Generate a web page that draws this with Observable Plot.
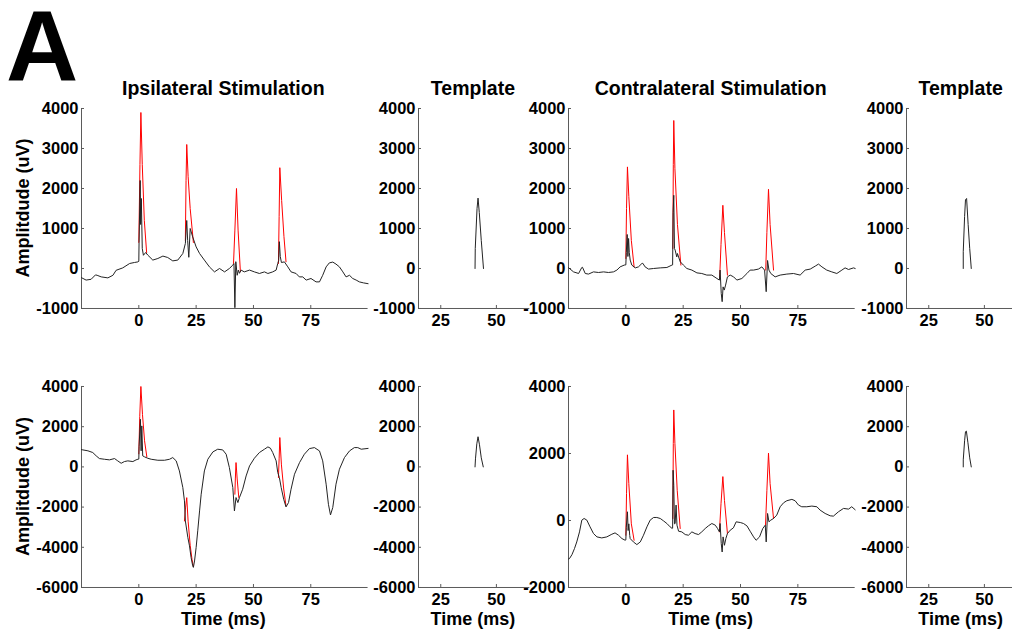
<!DOCTYPE html>
<html>
<head>
<meta charset="utf-8">
<script src="https://cdn.jsdelivr.net/npm/d3@7"></script>
<script src="https://cdn.jsdelivr.net/npm/@observablehq/plot@0.6"></script>
<style>
  body { margin: 0; background: #fff; }
  #fig { position: relative; width: 1012px; height: 633px; background: #fff; overflow: hidden; }
  #fig svg { position: absolute; }
</style>
</head>
<body>
<div id="fig"></div>
<script>
// ---------- data (time in ms, amplitude in uV) ----------
const ipsiTopBlack = [[-25,-230],[-23,-290],[-20.8,-270],[-18.9,-160],[-18.2,-170],[-16.4,-210],[-13.5,-235],[-11.3,-170],[-9.9,-45],[-7,15],[-4,125],[-1.9,150],[-0.4,165],[0,180],[0.1,650],[0.6,2200],[0.8,1100],[1.1,1750],[1.5,500],[2,330],[3,400],[3.9,335],[6.1,210],[8.3,250],[10.5,310],[12.6,275],[14.8,190],[17,210],[19.2,375],[20.3,625],[20.9,1200],[21.3,700],[21.8,280],[22.4,1000],[23.5,790],[25,540],[26.5,375],[28.6,210],[30.8,40],[33,-85],[35.2,0],[37.4,-85],[39.5,0],[41,85],[41.5,120],[41.9,-980],[42.3,170],[42.9,-170],[43.4,-40],[43.9,-120],[44.6,-40],[46,-85],[48.3,-40],[50.4,-85],[52.6,-125],[54.8,-85],[56.3,-125],[58.4,-85],[59.9,-40],[60.6,125],[61,200],[61.3,670],[61.7,300],[62.2,150],[63.5,165],[65,40],[66.4,-85],[68.6,-125],[70,-210],[71.5,-210],[73,-290],[75.1,-250],[77.3,-335],[78.8,-335],[80.2,-170],[81.7,40],[83.1,140],[84.6,160],[86,110],[87.5,40],[89,-85],[90.4,-210],[91.9,-170],[93.3,-250],[94.8,-290],[96.2,-335],[98,-360],[100,-380]];
const ipsiTopRed = [
  [[0,650],[0.5,2600],[0.9,3900],[1.5,2600],[2.4,1200],[3.4,400]],
  [[20.3,700],[20.6,2200],[20.9,3100],[21.5,2300],[22.4,1500],[23.8,650]],
  [[41.3,125],[41.9,960],[42.6,2000],[43.3,960],[44.3,-80]],
  [[60.9,125],[61.2,1300],[61.5,2520],[62.3,1700],[63.3,800],[64.2,170]]
];
const ipsiTopTemplate = [[40.4,0],[40.5,500],[41.3,1500],[41.75,1760],[42.3,1400],[43.2,700],[44.2,0]];

const contraTopBlack = [[-25,20],[-22.8,-85],[-20.6,-125],[-19.2,25],[-18.9,30],[-17.7,-125],[-16.3,-140],[-14.1,-85],[-11.9,-100],[-9.7,-85],[-7.6,-100],[-5.4,-85],[-3.9,-40],[-2.5,40],[-0.7,85],[0,90],[0.2,400],[0.6,850],[0.9,300],[1.2,750],[1.5,400],[1.9,210],[2.6,85],[4.1,15],[5.5,40],[7,125],[7.4,130],[8.4,40],[9.9,-15],[12.1,0],[15,15],[17.9,25],[20.1,85],[20.4,90],[20.6,1400],[20.9,1830],[21.2,500],[21.5,460],[22.2,290],[22.5,375],[23.7,170],[25.1,85],[26.6,0],[28.8,-40],[31,-110],[33.1,-125],[35.3,-165],[37.5,-165],[39.7,-250],[40.8,-290],[41.1,-40],[41.6,-625],[42,-830],[42.4,-460],[42.9,-540],[43.5,-415],[44.3,-210],[45.5,-165],[47,-210],[48.4,-290],[50.6,-250],[52.8,-125],[54.2,-40],[55.7,-40],[57.8,-15],[59.3,40],[60.5,-40],[61.2,-580],[61.8,200],[62.4,-40],[63.2,-125],[65.1,-210],[67.3,-165],[70.2,-140],[73.1,-125],[76,-165],[78.2,-40],[80.4,-15],[82.6,60],[84,110],[85.5,40],[87.6,-40],[89.8,-85],[92,-125],[94.2,-40],[95.6,15],[97.1,-25],[99.3,15],[100,0]];
const contraTopRed = [
  [[0,250],[0.3,1500],[0.7,2540],[1.3,1800],[2.4,700],[3.6,40]],
  [[20.5,500],[20.7,2600],[20.9,3700],[21.4,2500],[22.5,1100],[24,85]],
  [[40.9,-250],[41.5,600],[42.3,1580],[43,900],[44.3,-165]],
  [[61,-40],[61.5,900],[62.2,1980],[62.9,1100],[64.4,-40]]
];
const contraTopTemplate = [[40.5,0],[40.5,420],[41.1,1300],[41.5,1720],[42,1750],[42.7,1100],[43.4,500],[44.1,0]];

const ipsiBotBlack = [[-25,860],[-24.4,845],[-22.2,800],[-20.1,715],[-18.6,550],[-17.2,415],[-15,380],[-12.8,350],[-10.6,415],[-9.2,300],[-7.7,180],[-6.3,265],[-4.8,300],[-2.6,265],[-1.2,350],[-0.4,380],[0,390],[0.1,1000],[0.7,2370],[1,800],[1.3,2040],[1.7,550],[2.5,500],[3.9,430],[5.4,380],[8.3,330],[11.2,330],[13.4,380],[14.8,465],[16.3,300],[17.7,-200],[19.2,-1030],[19.9,-1690],[20.3,-2690],[21.4,-3520],[22.1,-3930],[22.8,-4510],[23.5,-4920],[23.8,-5000],[24.3,-4680],[25,-4010],[25.7,-3180],[26.5,-2190],[27.2,-1360],[28.6,-200],[30.1,380],[32.3,745],[34.4,880],[36.6,845],[38.1,630],[39.5,-35],[41,-1030],[41.7,-2190],[42.4,-1525],[43.2,-1775],[43.9,-1525],[45.3,-1110],[46.8,-450],[48.3,50],[50.4,430],[52.6,715],[54.8,880],[56.3,995],[57.4,930],[58.4,715],[59.9,300],[60.6,-280],[61.3,-530],[62.1,-1030],[63.2,-1610],[64.2,-1990],[65.3,-1775],[66.4,-1110],[67.9,-365],[70.1,215],[72.2,630],[74.4,910],[76.6,960],[78.8,795],[80.2,300],[81.7,-860],[82.7,-1860],[83.6,-2390],[84.6,-2020],[86,-860],[87.5,-115],[89.7,465],[91.9,795],[94,960],[95.5,960],[97,880],[100,920]];
const ipsiBotRed = [
  [[0,650],[0.4,2500],[0.9,4000],[1.6,2600],[2.5,1300],[3.5,500]],
  [[19.9,-2690],[20.4,-2000],[20.9,-1530],[21.5,-2700],[22.4,-3900],[23.2,-4600],[23.8,-4950]],
  [[41.9,-1360],[42.1,-600],[42.4,215],[42.9,-600],[43.6,-1525]],
  [[60.9,-530],[61.2,400],[61.5,1460],[62.2,100],[63.2,-1100],[64.2,-1940]]
];
const ipsiBotTemplate = [[40.4,0],[40.6,400],[41.2,1150],[41.75,1500],[42.4,1100],[43.2,450],[44.1,0]];

const contraBotBlack = [[-25,-1150],[-24.6,-1140],[-23.5,-1020],[-22.4,-840],[-21.4,-640],[-20.2,-340],[-19.2,10],[-18.2,60],[-17,10],[-15.6,-190],[-14.1,-390],[-12.6,-490],[-10.5,-520],[-8.3,-490],[-6.1,-410],[-4.7,-370],[-3.2,-440],[-1.7,-540],[-0.3,-590],[0,-580],[0.2,-200],[0.7,260],[1,-300],[1.3,-100],[1.7,-450],[1.9,-540],[3.3,-640],[4.8,-720],[6.3,-640],[7.7,-440],[9.2,-190],[10.6,10],[12.1,90],[13.5,90],[15,60],[16.4,-10],[17.9,-90],[19.3,-190],[20.2,-240],[20.4,-230],[20.6,1500],[20.9,1050],[21.2,-100],[21.5,-90],[21.9,460],[22.3,-140],[23,-320],[24.4,-340],[25.9,-420],[27.3,-440],[28.8,-340],[30.2,-390],[31.7,-420],[33.1,-340],[34.6,-240],[36,-160],[37.5,-90],[39,-140],[40,-240],[40.8,-340],[41.1,-90],[41.6,-690],[42,-940],[42.4,-490],[43,-740],[43.6,-540],[44.3,-390],[45.5,-290],[46.9,-220],[48.1,-40],[49.9,-60],[51.3,-90],[52.8,-160],[54.2,-320],[55.7,-490],[56.8,-590],[58.3,-490],[59.7,-240],[60.8,-140],[61.2,-640],[61.8,210],[62.4,-40],[63.2,10],[64.4,60],[65.8,160],[67.3,410],[68.8,530],[70.2,590],[72.4,630],[73.8,590],[75.3,460],[76.7,410],[78.9,410],[81.1,430],[83.3,410],[84.7,310],[86.9,210],[89.1,140],[90.5,130],[92.7,260],[94.9,360],[97.1,340],[98.5,410],[100,320]];
const contraBotRed = [
  [[0,-440],[0.3,800],[0.7,1960],[1.3,1100],[2.4,-100],[3.6,-590]],
  [[20.5,60],[20.7,2300],[20.9,3300],[21.4,2300],[22.4,900],[23.7,-240]],
  [[40.8,-340],[41.5,500],[42.3,1310],[43,600],[44.3,-390]],
  [[60.9,-140],[61.5,900],[62.2,2010],[62.9,1100],[64.4,60]]
];
const contraBotTemplate = [[40.5,0],[40.5,350],[41.1,1300],[41.5,1750],[41.9,1780],[42.6,1200],[43.4,450],[44.1,0]];

// ticks and labels
const traceTicks = [0, 25, 50, 75];
const templateTicks = [25, 50];
const topYTicks = [-1000, 0, 1000, 2000, 3000, 4000];
const botYTicks = [-6000, -4000, -2000, 0, 2000, 4000];
const botContraYTicks = [-2000, 0, 2000, 4000];
const titles = ["Ipsilateral Stimulation", "Template", "Contralateral Stimulation", "Template"];
const yLabel = "Amplitdude (uV)";
const xLabel = "Time (ms)";
const panelLetter = "A";

// ---------- layout ----------
const font = "'Liberation Sans', Arial, Helvetica, sans-serif";
const axisColor = "#5a5a5a";
const cols = [
  {x0: 81, x1: 367.6, xDomain: [-25, 100], xTicks: traceTicks},
  {x0: 418.3, x1: 529.6, xDomain: [15, 65], xTicks: templateTicks},
  {x0: 568.3, x1: 855, xDomain: [-25, 100], xTicks: traceTicks},
  {x0: 906, x1: 1017.3, xDomain: [15, 65], xTicks: templateTicks}
];
const rows = [{y0: 108, y1: 308}, {y0: 386, y1: 587}];

const panels = [
  {c: 0, r: 0, yDomain: [-1000, 4000], yTicks: topYTicks, black: ipsiTopBlack, red: ipsiTopRed},
  {c: 1, r: 0, yDomain: [-1000, 4000], yTicks: topYTicks, black: ipsiTopTemplate},
  {c: 2, r: 0, yDomain: [-1000, 4000], yTicks: topYTicks, black: contraTopBlack, red: contraTopRed},
  {c: 3, r: 0, yDomain: [-1000, 4000], yTicks: topYTicks, black: contraTopTemplate},
  {c: 0, r: 1, yDomain: [-6000, 4000], yTicks: botYTicks, black: ipsiBotBlack, red: ipsiBotRed},
  {c: 1, r: 1, yDomain: [-6000, 4000], yTicks: botYTicks, black: ipsiBotTemplate},
  {c: 2, r: 1, yDomain: [-2000, 4000], yTicks: botContraYTicks, black: contraBotBlack, red: contraBotRed},
  {c: 3, r: 1, yDomain: [-6000, 4000], yTicks: botYTicks, black: contraBotTemplate}
];

const fig = document.getElementById("fig");
const fmt = d => String(d);

for (const p of panels) {
  const col = cols[p.c], row = rows[p.r];
  const ML = 60, MR = 6, MT = 6, MB = 34;
  const fw = col.x1 - col.x0, fh = row.y1 - row.y0;
  const marks = [
    Plot.ruleX([col.xDomain[0]], {stroke: axisColor}),
    Plot.ruleY([p.yDomain[0]], {stroke: axisColor}),
    Plot.tickX(col.xTicks, {x: d => d, insetTop: fh - 3, stroke: axisColor}),
    Plot.tickY(p.yTicks, {y: d => d, insetRight: fw - 3, stroke: axisColor}),
    Plot.axisX({ticks: col.xTicks, tickSize: 0, tickPadding: 5.5, tickFormat: fmt, label: null}),
    Plot.axisY({ticks: p.yTicks, tickSize: 0, tickPadding: 3, tickFormat: fmt, label: null})
  ];
  if (p.red) {
    const redRows = p.red.flatMap((seg, i) => seg.map(([t, v]) => ({t, v, s: i})));
    marks.push(Plot.line(redRows, {x: "t", y: "v", z: "s", stroke: "#ff0000", strokeWidth: 1}));
  }
  marks.push(Plot.line(p.black.map(([t, v]) => ({t, v})), {x: "t", y: "v", stroke: "#222", strokeWidth: 1}));
  const svg = Plot.plot({
    width: fw + ML + MR, height: fh + MT + MB,
    marginLeft: ML, marginRight: MR, marginTop: MT, marginBottom: MB,
    x: {domain: col.xDomain, label: null},
    y: {domain: p.yDomain, label: null},
    style: {background: "transparent", overflow: "visible", fontFamily: font, fontSize: "16.5px", fontWeight: "bold", color: "black"},
    marks
  });
  svg.style.left = (col.x0 - ML) + "px";
  svg.style.top = (row.y0 - MT) + "px";
  fig.appendChild(svg);
}

// ---------- text overlay ----------
const ns = "http://www.w3.org/2000/svg";
const over = document.createElementNS(ns, "svg");
over.setAttribute("width", 1012); over.setAttribute("height", 633);
over.style.left = "0px"; over.style.top = "0px";
over.style.fontFamily = font; over.style.fontWeight = "bold";
function addText(str, x, y, size, anchor, rotate) {
  const t = document.createElementNS(ns, "text");
  t.textContent = str;
  t.setAttribute("x", x); t.setAttribute("y", y);
  t.setAttribute("font-size", size);
  t.setAttribute("text-anchor", anchor);
  t.setAttribute("fill", "#000");
  if (rotate) t.setAttribute("transform", `rotate(-90 ${x} ${y})`);
  over.appendChild(t);
}
addText(panelLetter, 6, 81, 100, "start");
titles.forEach((s, i) => addText(s, (cols[i].x0 + cols[i].x1) / 2 - 1, 95, 19.5, "middle"));
rows.forEach(r => addText(yLabel, 29, (r.y0 + r.y1) / 2, 18, "middle", true));
cols.forEach(c => addText(xLabel, (c.x0 + c.x1) / 2 - 1, 625, 18, "middle"));
fig.appendChild(over);
</script>
</body>
</html>
